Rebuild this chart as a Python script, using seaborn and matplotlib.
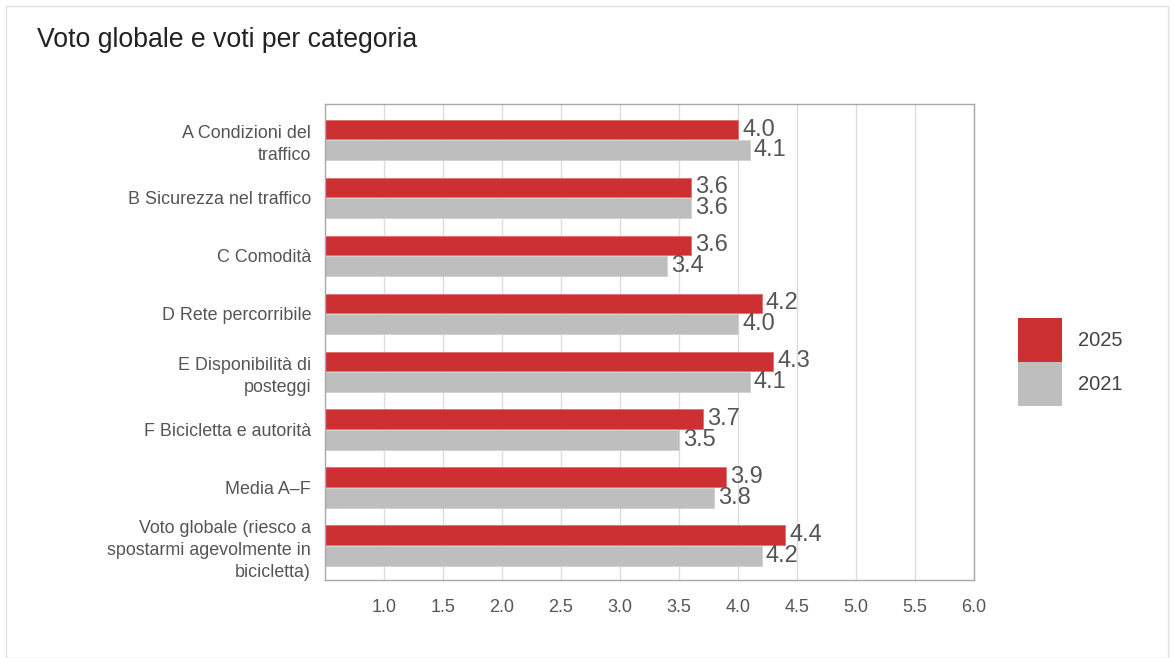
import pandas as pd
import numpy as np
import matplotlib.pyplot as plt
import seaborn as sns
from matplotlib.patches import Rectangle

# ---- data ----
categories = [
    "A Condizioni del\ntraffico",
    "B Sicurezza nel traffico",
    "C Comodità",
    "D Rete percorribile",
    "E Disponibilità di\nposteggi",
    "F Bicicletta e autorità",
    "Media A–F",
    "Voto globale (riesco a\nspostarmi agevolmente in\nbicicletta)",
]
voti_2025 = [4.0, 3.6, 3.6, 4.2, 4.3, 3.7, 3.9, 4.4]
voti_2021 = [4.1, 3.6, 3.4, 4.0, 4.1, 3.5, 3.8, 4.2]
anni = ["2025", "2021"]
x_ticks = [1.0, 1.5, 2.0, 2.5, 3.0, 3.5, 4.0, 4.5, 5.0, 5.5, 6.0]

df = pd.DataFrame({
    "categoria": categories * 2,
    "voto": voti_2025 + voti_2021,
    "anno": [anni[0]] * len(categories) + [anni[1]] * len(categories),
})

sns.set_theme(style="white")
plt.rcParams['font.family'] = ['Liberation Sans', 'DejaVu Sans']

palette = {"2025": "#cc3033", "2021": "#bebebe"}
bordi = {"2025": "#e07070", "2021": "#d0d0d0"}

fig = plt.figure(figsize=(11.74, 6.58), dpi=100)
ax = fig.add_axes([325 / 1174, 1 - 580 / 658, (974 - 325) / 1174, (580 - 104) / 658])

sns.barplot(data=df, y="categoria", x="voto", hue="anno", hue_order=anni,
            palette=palette, saturation=1, orient="h", width=0.72, gap=0.05,
            linewidth=0.6, ax=ax, legend=True)

for anno, cont in zip(anni, ax.containers):
    for p in cont:
        p.set_edgecolor(bordi[anno])
    ax.bar_label(cont, fmt="%.1f", padding=3, fontsize=17, color="#555555")

ax.set_xlim(0.5, 6.0)
ax.set_ylim(7.59, -0.62)
ax.set_xticks(x_ticks)
ax.set_xticklabels([f"{t:.1f}" for t in x_ticks], fontsize=13, color="#555555")
ax.tick_params(axis="x", length=0, pad=14)
ax.tick_params(axis="y", length=0, pad=10, labelsize=12.9, labelcolor="#555555")
ax.set_xlabel("")
ax.set_ylabel("")
ax.xaxis.grid(True, color="#dcdcdc", linewidth=1)
ax.set_axisbelow(True)
for s in ax.spines.values():
    s.set_color("#a8a8a8")
    s.set_linewidth(1)
for lbl in ax.get_yticklabels():
    lbl.set_horizontalalignment("right")
    lbl.set_multialignment("right")
    lbl.set_linespacing(1.4)

handles, labels = ax.get_legend_handles_labels()
for h in handles:
    h.set_edgecolor("none")
ax.legend(handles, labels, loc="center left", bbox_to_anchor=(1.068, 0.458),
          frameon=False, fontsize=14.5, handlelength=2.19, handleheight=2.99,
          labelspacing=0, handletextpad=0.8, borderpad=0, borderaxespad=0,
          labelcolor="#444444")

fig.text(37 / 1174, 1 - 40 / 658, "Voto globale e voti per categoria",
         fontsize=19.2, color="#222222", va="center", ha="left")

fig.patches.append(Rectangle((6 / 1174, 0), 1 - 12 / 1174, 1 - 6 / 658,
                             transform=fig.transFigure, fill=False,
                             edgecolor="#e0e0e0", linewidth=1))

plt.savefig("out.png", dpi=100)
plt.close()
